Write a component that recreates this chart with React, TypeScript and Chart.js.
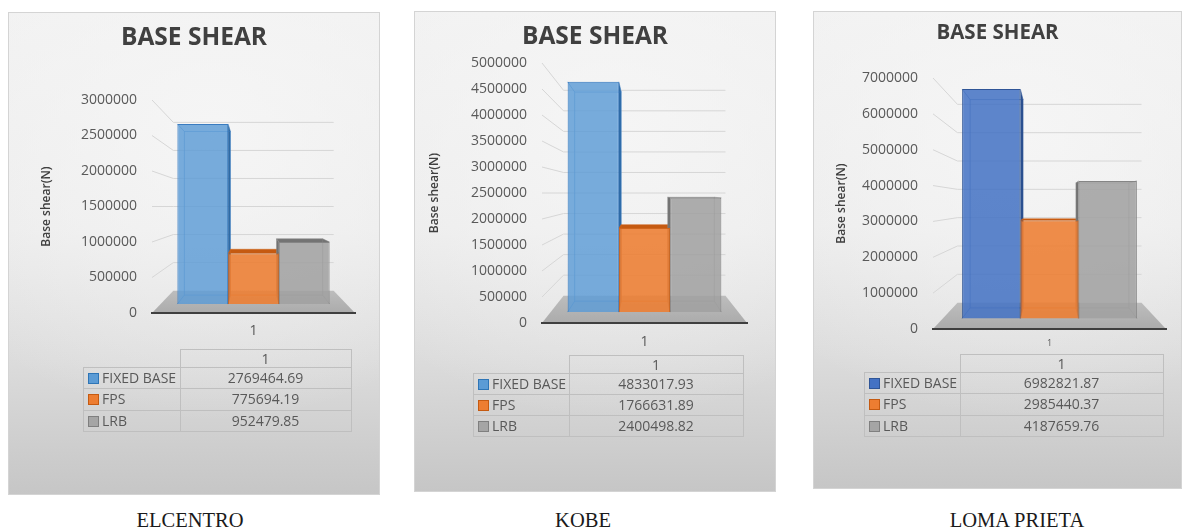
import React, { useEffect, useRef } from "react";
import { Chart, registerables } from "chart.js";

Chart.register(...registerables);

// ---- data ----
const seriesNames = ["FIXED BASE", "FPS", "LRB"];
const categoryLabels = ["1"];
const elcentroShear = [2769464.69, 775694.19, 952479.85];
const kobeShear = [4833017.93, 1766631.89, 2400498.82];
const lomaPrietaShear = [6982821.87, 2985440.37, 4187659.76];
const elcentroAxis = [0, 3000000, 500000]; // min, max, step
const kobeAxis = [0, 5000000, 500000];
const lomaPrietaAxis = [0, 7000000, 1000000];
const recordNames = ["ELCENTRO", "KOBE", "LOMA PRIETA"];

// ---- 3D column look: walls recede towards the centre of the plot area ----
const DEPTH_SHRINK = 0.21; // scale of the back wall relative to the front plane
const BAR_FRONT_DEPTH = 0.4;
const BAR_BACK_DEPTH = 0.8;
const S_FRONT = 1 - DEPTH_SHRINK * BAR_FRONT_DEPTH;
const S_BACK = 1 - DEPTH_SHRINK * BAR_BACK_DEPTH;

const FONT = "'Open Sans', 'DejaVu Sans', sans-serif";

type Palette = { fill: string[]; edge: string[]; side: string[]; key: string[]; keyEdge: string[] };

const standardPalette: Palette = {
  fill: ["rgba(91,155,213,0.82)", "rgba(237,125,49,0.88)", "rgba(160,160,160,0.85)"],
  edge: ["#3a7cc0", "#d0651c", "#858585"],
  side: ["#2e6aa6", "#c55a11", "#737373"],
  key: ["#5b9bd5", "#ed7d31", "#a5a5a5"],
  keyEdge: ["#2e75b6", "#c55a11", "#7f7f7f"],
};
const darkBluePalette: Palette = {
  fill: ["rgba(68,114,196,0.86)", "rgba(237,125,49,0.88)", "rgba(160,160,160,0.85)"],
  edge: ["#2f5597", "#d0651c", "#858585"],
  side: ["#2a4f8f", "#c55a11", "#737373"],
  key: ["#4472c4", "#ed7d31", "#a5a5a5"],
  keyEdge: ["#2f5597", "#c55a11", "#7f7f7f"],
};

type PanelSpec = {
  values: number[];
  axis: number[];
  caption: string;
  palette: Palette;
  box: { left: number; top: number; width: number; height: number };
  plot: { left: number; top: number; right: number; bottom: number };
  titleSize: number;
  titleCenterY: number;
  axisTitleX: number;
  xLabelSize: number;
  xLabelCenterY: number;
  table: { left: number; top: number; split: number; right: number; headH: number; rowH: number };
  captionX: number;
  captionY: number;
};

const panels: PanelSpec[] = [
  {
    values: elcentroShear,
    axis: elcentroAxis,
    caption: recordNames[0],
    palette: standardPalette,
    box: { left: 8, top: 12, width: 372, height: 483 },
    plot: { left: 152, top: 100, right: 355, bottom: 313 },
    titleSize: 24.5,
    titleCenterY: 38,
    axisTitleX: 47,
    xLabelSize: 14,
    xLabelCenterY: 331,
    table: { left: 83, top: 349, split: 179, right: 349, headH: 18, rowH: 21.3 },
    captionX: 190,
    captionY: 520,
  },
  {
    values: kobeShear,
    axis: kobeAxis,
    caption: recordNames[1],
    palette: standardPalette,
    box: { left: 414, top: 11, width: 362, height: 481 },
    plot: { left: 542, top: 63, right: 747, bottom: 323 },
    titleSize: 24.5,
    titleCenterY: 37,
    axisTitleX: 435,
    xLabelSize: 14,
    xLabelCenterY: 342,
    table: { left: 473, top: 355, split: 568, right: 741, headH: 18, rowH: 21 },
    captionX: 583,
    captionY: 520,
  },
  {
    values: lomaPrietaShear,
    axis: lomaPrietaAxis,
    caption: recordNames[2],
    palette: darkBluePalette,
    box: { left: 813, top: 11, width: 369, height: 478 },
    plot: { left: 933, top: 78, right: 1166, bottom: 329 },
    titleSize: 20.5,
    titleCenterY: 33,
    axisTitleX: 842,
    xLabelSize: 9,
    xLabelCenterY: 343,
    table: { left: 864, top: 354, split: 959, right: 1161, headH: 18, rowH: 21.3 },
    captionX: 1017,
    captionY: 520,
  },
];

// Side walls, floor and the hidden faces of each column, in perspective.
const perspectivePlugin = {
  id: "perspective3d",
  beforeDatasetsDraw(chart: any) {
    const { ctx, chartArea: a } = chart;
    const yScale = chart.scales.y;
    const cx = (a.left + a.right) / 2;
    const cy = (a.top + a.bottom) / 2;
    const sWall = 1 - DEPTH_SHRINK;
    const toDepth = (px: number, py: number, s: number) => [cx + (px - cx) * s, cy + (py - cy) * s];

    ctx.save();
    // grid on the left side wall and the back wall
    ctx.strokeStyle = "#d6d6d6";
    ctx.lineWidth = 1;
    yScale.ticks.forEach((t: any) => {
      if (t.value === 0) return;
      const py = yScale.getPixelForValue(t.value);
      const [bx, by] = toDepth(a.left, py, sWall);
      const [ex] = toDepth(a.right, py, sWall);
      ctx.beginPath();
      ctx.moveTo(a.left, py);
      ctx.lineTo(bx, by);
      ctx.lineTo(ex, by);
      ctx.stroke();
    });

    // floor
    const y0 = yScale.getPixelForValue(0);
    const [blx, bly] = toDepth(a.left, y0, sWall);
    const [brx] = toDepth(a.right, y0, sWall);
    const g = ctx.createLinearGradient(0, bly, 0, y0);
    g.addColorStop(0, "#bdbdbd");
    g.addColorStop(1, "#ababab");
    ctx.fillStyle = g;
    ctx.beginPath();
    ctx.moveTo(a.left, y0);
    ctx.lineTo(a.right, y0);
    ctx.lineTo(brx, bly);
    ctx.lineTo(blx, bly);
    ctx.closePath();
    ctx.fill();

    // back, side and top faces of the columns (front faces are the bar elements)
    const r = S_BACK / S_FRONT;
    const back = (px: number, py: number) => [cx + (px - cx) * r, cy + (py - cy) * r];
    chart.data.datasets.forEach((ds: any, i: number) => {
      const meta = chart.getDatasetMeta(i);
      meta.data.forEach((el: any) => {
        const { x, y, base, width } = el.getProps(["x", "y", "base", "width"], true);
        const xl = x - width / 2;
        const xr = x + width / 2;
        const [bxl, byt] = back(xl, y);
        const [bxr, byb] = back(xr, base);
        ctx.fillStyle = ds.sideColor;
        // left face
        if (bxl < xl) {
          ctx.beginPath();
          ctx.moveTo(xl, y);
          ctx.lineTo(bxl, byt);
          ctx.lineTo(bxl, byb);
          ctx.lineTo(xl, base);
          ctx.closePath();
          ctx.fill();
        }
        // right face
        if (bxr > xr) {
          ctx.beginPath();
          ctx.moveTo(xr, y);
          ctx.lineTo(bxr, byt);
          ctx.lineTo(bxr, byb);
          ctx.lineTo(xr, base);
          ctx.closePath();
          ctx.fill();
        }
        // top face
        if (byt < y) {
          ctx.beginPath();
          ctx.moveTo(xl, y);
          ctx.lineTo(xr, y);
          ctx.lineTo(bxr, byt);
          ctx.lineTo(bxl, byt);
          ctx.closePath();
          ctx.fill();
        }
        // back face and receding edges seen through the column
        ctx.strokeStyle = ds.borderColor;
        ctx.globalAlpha = 0.55;
        ctx.lineWidth = 1;
        ctx.strokeRect(bxl, byt, bxr - bxl, byb - byt);
        ctx.beginPath();
        ctx.moveTo(xl, y);
        ctx.lineTo(bxl, byt);
        ctx.moveTo(xr, y);
        ctx.lineTo(bxr, byt);
        ctx.moveTo(xl, base);
        ctx.lineTo(bxl, byb);
        ctx.moveTo(xr, base);
        ctx.lineTo(bxr, byb);
        ctx.stroke();
        ctx.globalAlpha = 1;
      });
    });
    ctx.restore();
  },
};

function ShearChart({ spec }: { spec: PanelSpec }) {
  const ref = useRef<HTMLCanvasElement | null>(null);
  useEffect(() => {
    if (!ref.current) return;
    const { box, plot } = spec;
    const [axisMin, axisMax, axisStep] = spec.axis;
    const titleLine = spec.titleSize * 1.2;
    const titleTop = spec.titleCenterY - box.top - titleLine / 2;
    const titleBottom = plot.top - box.top - titleTop - titleLine;
    const axisTitleSize = 12;
    const xLabelLine = spec.xLabelSize * 1.2;
    const barMin = (-axisMax * (1 - S_FRONT)) / (2 * S_FRONT);
    const barMax = (axisMax * (1 + S_FRONT)) / (2 * S_FRONT);

    const chart = new Chart(ref.current, {
      type: "bar",
      data: {
        labels: categoryLabels,
        datasets: seriesNames.map((name, i) => ({
          label: name,
          data: [spec.values[i]],
          backgroundColor: spec.palette.fill[i],
          borderColor: spec.palette.edge[i],
          borderWidth: 1,
          sideColor: spec.palette.side[i],
          yAxisID: "yBar",
          categoryPercentage: 0.75,
          barPercentage: 1,
        })) as any,
      },
      options: {
        responsive: false,
        maintainAspectRatio: false,
        animation: false,
        layout: { padding: 0 },
        plugins: {
          legend: { display: false },
          tooltip: { enabled: false },
          title: {
            display: true,
            text: "BASE SHEAR",
            color: "#404040",
            font: { family: FONT, size: spec.titleSize, weight: "bold" },
            padding: { top: titleTop, bottom: titleBottom },
          },
        },
        scales: {
          x: {
            position: "bottom",
            grid: { display: false, drawTicks: false },
            border: { display: true, color: "#3f3f3f", width: 2, z: 1 },
            ticks: {
              color: "#595959",
              font: { family: FONT, size: spec.xLabelSize },
              padding: spec.xLabelCenterY - plot.bottom - xLabelLine / 2,
            },
            afterFit: (s: any) => {
              s.height = box.top + box.height - plot.bottom;
            },
          },
          y: {
            position: "left",
            min: axisMin,
            max: axisMax,
            grid: { display: false, drawTicks: false },
            border: { display: false },
            ticks: {
              stepSize: axisStep,
              color: "#595959",
              font: { family: FONT, size: 14 },
              padding: 15,
              callback: (v: any) => String(v),
            },
            title: {
              display: true,
              text: "Base shear(N)",
              color: "#404040",
              font: { family: FONT, size: axisTitleSize, weight: "600" },
              padding: { top: spec.axisTitleX - box.left - (axisTitleSize * 1.2) / 2, bottom: 0 },
            },
            afterFit: (s: any) => {
              s.width = plot.left - box.left;
            },
          },
          yBar: {
            position: "right",
            display: true,
            min: barMin,
            max: barMax,
            grid: { display: false, drawTicks: false },
            border: { display: false },
            ticks: { display: false },
            afterFit: (s: any) => {
              s.width = box.left + box.width - plot.right;
            },
          },
        },
      } as any,
      plugins: [perspectivePlugin],
    });
    return () => chart.destroy();
  }, [spec]);

  return (
    <canvas
      ref={ref}
      width={spec.box.width}
      height={spec.box.height}
      style={{ position: "absolute", left: 0, top: 0, width: spec.box.width, height: spec.box.height }}
    />
  );
}

function DataTable({ spec }: { spec: PanelSpec }) {
  const { table, box } = spec;
  const border = "1px solid #bfbfbf";
  const labelW = table.split - table.left;
  const valueW = table.right - table.split;
  const cellText = { fontFamily: FONT, fontSize: 14, color: "#595959", lineHeight: "16px", padding: 0 };
  return (
    <table
      style={{
        position: "absolute",
        left: table.left - box.left,
        top: table.top - box.top,
        borderCollapse: "collapse",
        tableLayout: "fixed",
        width: table.right - table.left,
      }}
    >
      <tbody>
        <tr style={{ height: table.headH }}>
          <td style={{ width: labelW, padding: 0 }} />
          <td style={{ ...cellText, width: valueW, border, textAlign: "center" }}>{categoryLabels[0]}</td>
        </tr>
        {seriesNames.map((name, i) => (
          <tr key={name} style={{ height: table.rowH }}>
            <td style={{ ...cellText, border, whiteSpace: "nowrap" }}>
              <span
                style={{
                  display: "inline-block",
                  width: 9,
                  height: 9,
                  background: spec.palette.key[i],
                  border: `1px solid ${spec.palette.keyEdge[i]}`,
                  marginLeft: 4,
                  marginRight: 3,
                  verticalAlign: "-1px",
                }}
              />
              {name}
            </td>
            <td style={{ ...cellText, border, textAlign: "center" }}>{spec.values[i].toFixed(2)}</td>
          </tr>
        ))}
      </tbody>
    </table>
  );
}

function Panel({ spec }: { spec: PanelSpec }) {
  const { box } = spec;
  return (
    <>
      <div
        style={{
          position: "absolute",
          left: box.left,
          top: box.top,
          width: box.width,
          height: box.height,
          boxSizing: "border-box",
          border: "1px solid #d4d4d4",
          background:
            "radial-gradient(ellipse 90% 60% at 55% 25%, rgba(246,246,246,0.9) 0%, rgba(246,246,246,0) 100%), linear-gradient(180deg, #f1f1f1 0%, #ebebeb 45%, #dcdcdc 72%, #c6c6c6 100%)",
        }}
      />
      <div style={{ position: "absolute", left: box.left, top: box.top, width: box.width, height: box.height }}>
        <ShearChart spec={spec} />
        <DataTable spec={spec} />
      </div>
      <div
        style={{
          position: "absolute",
          left: spec.captionX - 120,
          width: 240,
          top: spec.captionY - 12,
          height: 24,
          lineHeight: "24px",
          textAlign: "center",
          fontFamily: "'Liberation Serif', 'Times New Roman', serif",
          fontSize: 20.5,
          color: "#1a1a1a",
        }}
      >
        {spec.caption}
      </div>
    </>
  );
}

export default function App() {
  return (
    <div style={{ position: "fixed", left: 0, top: 0, width: 1182, height: 532, background: "#ffffff", overflow: "hidden" }}>
      {panels.map((p) => (
        <Panel key={p.caption} spec={p} />
      ))}
    </div>
  );
}
